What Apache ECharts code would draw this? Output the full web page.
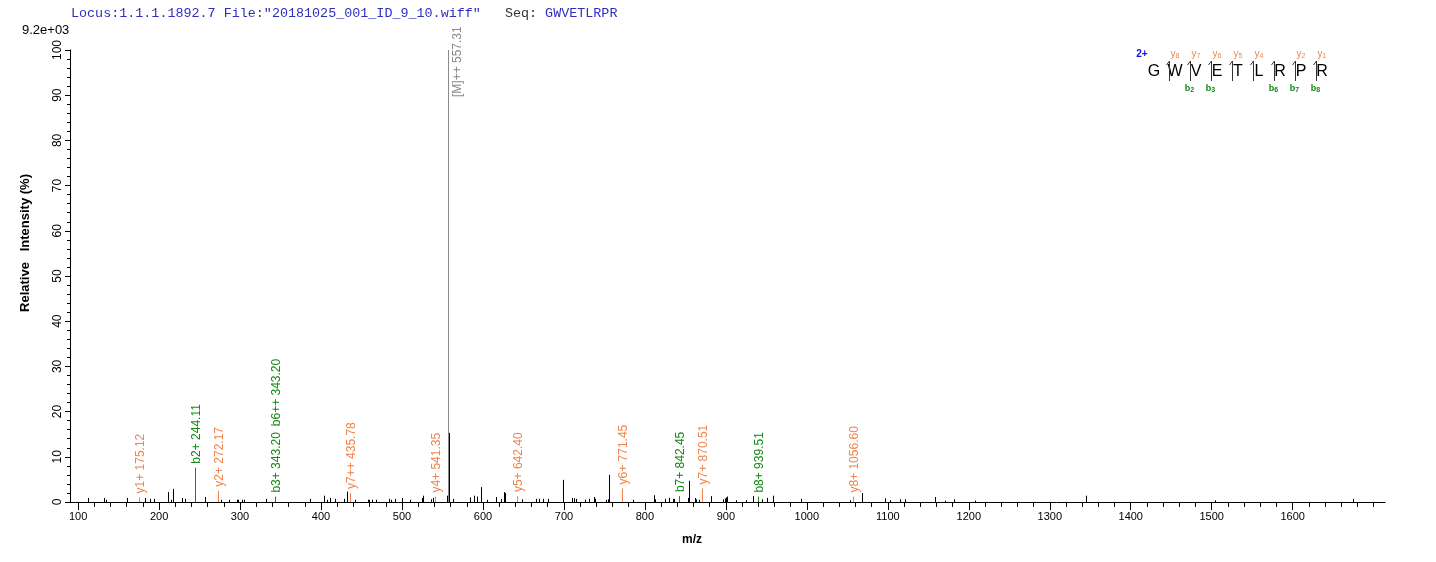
<!DOCTYPE html>
<html>
<head>
<meta charset="utf-8">
<script src="https://cdn.jsdelivr.net/npm/echarts@6/dist/echarts.min.js"></script>
<style>
html, body { margin: 0; padding: 0; background: #fff; }
#chart { width: 1436px; height: 562px; }
</style>
</head>
<body>
<div id="chart"></div>
<script>
// unannotated peaks (m/z, relative intensity %)
var peakMz = [112.6, 132.3, 134.3, 160.7, 182.5, 188.7, 194.0, 210.9, 214.6, 217.0, 228.6, 231.5, 256.5, 275.9, 286.2,
    296.5, 297.8, 302.7, 304.7, 332.3, 387.0, 403.5, 407.6, 411.7, 416.7, 429.0, 431.5, 441.4, 457.8, 459.0, 463.2,
    468.1, 483.7, 487.0, 491.1, 500.2, 510.5, 524.9, 525.7, 536.4, 538.5, 555.8, 558.6, 562.7, 583.7, 588.7, 592.8,
    597.8, 605.2, 616.3, 622.5, 625.7, 627.0, 648.4, 665.7, 668.9, 674.3, 680.0, 698.5, 710.1, 712.1, 714.6, 725.7,
    731.1, 736.8, 738.0, 752.1, 754.1, 755.8, 785.0, 810.9, 812.1, 824.4, 829.4, 834.3, 835.6, 852.8, 854.1, 861.5,
    863.2, 867.3, 882.1, 896.5, 898.5, 900.2, 901.4, 912.6, 924.9, 933.1, 944.7, 950.9, 957.8, 992.8, 1052.8, 1068.1,
    1096.7, 1102.2, 1115.0, 1121.4, 1158.4, 1170.4, 1181.9, 1207.8, 1345.0, 1504.6, 1675.0];
var peakInt = [0.9, 0.9, 0.5, 0.9, 0.9, 0.7, 0.7, 2.2, 0.5, 2.9, 0.9, 0.7, 1.1, 0.5, 0.5,
    0.5, 0.5, 0.5, 0.5, 0.7, 0.7, 1.4, 0.5, 0.9, 0.7, 0.7, 2.3, 0.5, 0.5, 0.5, 0.5,
    0.5, 0.7, 0.5, 0.7, 0.9, 0.5, 0.9, 1.4, 0.6, 0.9, 1.4, 15.3, 0.7, 1.0, 1.4, 1.2,
    3.3, 0.5, 1.1, 0.7, 2.2, 2.0, 0.6, 0.7, 0.7, 0.7, 0.7, 4.9, 0.9, 0.8, 0.7, 0.5,
    0.7, 1.1, 0.7, 0.5, 0.6, 6.0, 0.5, 1.5, 0.6, 0.7, 0.9, 0.7, 0.7, 0.9, 4.7, 0.9,
    0.6, 0.5, 1.3, 0.6, 0.8, 1.0, 1.2, 0.4, 0.4, 1.3, 0.6, 0.9, 1.4, 0.7, 0.4, 2.0,
    0.8, 0.4, 0.6, 0.6, 1.1, 0.3, 0.6, 0.3, 1.4, 0.4, 0.7];

// annotated fragment peaks
var annMz = [175.12, 244.11, 272.17, 343.20, 435.78, 541.35, 557.31, 642.40, 771.45, 842.45, 870.51, 939.51, 1056.60];
var annInt = [1.0, 7.6, 2.5, 1.2, 2.0, 1.2, 100, 1.3, 3.0, 1.3, 3.0, 1.2, 1.2];
var annText = [['y1+ 175.12'], ['b2+ 244.11'], ['y2+ 272.17'], ['b3+ 343.20', 'b6++ 343.20'], ['y7++ 435.78'],
    ['y4+ 541.35'], ['[M]++ 557.31'], ['y5+ 642.40'], ['y6+ 771.45'], ['b7+ 842.45'], ['y7+ 870.51'],
    ['b8+ 939.51'], ['y8+ 1056.60']];
var annType = ['y', 'b', 'y', 'b', 'y', 'y', 'M', 'y', 'y', 'b', 'y', 'b', 'y'];

var xLabelValues = [100, 200, 300, 400, 500, 600, 700, 800, 900, 1000, 1100, 1200, 1300, 1400, 1500, 1600];
var xTickValues = [100, 120, 140, 160, 180, 200, 220, 240, 260, 280, 300, 320, 340, 360, 380, 400, 420, 440, 460, 480,
    500, 520, 540, 560, 580, 600, 620, 640, 660, 680, 700, 720, 740, 760, 780, 800, 820, 840, 860, 880, 900, 920, 940,
    960, 980, 1000, 1020, 1040, 1060, 1080, 1100, 1120, 1140, 1160, 1180, 1200, 1220, 1240, 1260, 1280, 1300, 1320,
    1340, 1360, 1380, 1400, 1420, 1440, 1460, 1480, 1500, 1520, 1540, 1560, 1580, 1600, 1620, 1640, 1660, 1680, 1700];

var seqLetters = ['G', 'W', 'V', 'E', 'T', 'L', 'R', 'P', 'R'];
var yIonFound = [8, 7, 6, 5, 4, 2, 1];
var bIonFound = [2, 3, 6, 7, 8];

var colors = { y: '#F0844C', b: '#128A12', M: '#8A8A8A' };
var labelFont = '12px "Liberation Sans", Arial, sans-serif';

var measureCtx = document.createElement('canvas').getContext('2d');
measureCtx.font = labelFont;
function textWidth(t) {
    return measureCtx.measureText(t).width;
}

var peakData = peakMz.map(function(m, i) { return [m, peakInt[i]]; });
var annData = annMz.map(function(m, i) { return [m, annInt[i], i]; });

function renderPeak(params, api) {
    var p0 = api.coord([api.value(0), 0]);
    var p1 = api.coord([api.value(0), api.value(1)]);
    var x = Math.round(p0[0]) + 0.5;
    return {
        type: 'line',
        shape: { x1: x, y1: p0[1], x2: x, y2: p1[1] },
        style: { stroke: '#000', lineWidth: 1 }
    };
}

function renderAnnotated(params, api) {
    var idx = api.value(2);
    var p0 = api.coord([api.value(0), 0]);
    var p1 = api.coord([api.value(0), api.value(1)]);
    var x = Math.round(p0[0]) + 0.5;
    var c = colors[annType[idx]];
    var gridTop = params.coordSys.y;
    var children = [{
        type: 'line',
        shape: { x1: x, y1: p0[1], x2: x, y2: p1[1] },
        style: { stroke: c, lineWidth: 1 }
    }];
    var yStart = p1[1] - 4;
    annText[idx].forEach(function(t) {
        var w = textWidth(t);
        if (yStart - w < gridTop) {
            // no room above the peak: put the text beside the line, near the top
            children.push({
                type: 'text', x: x + 9, y: gridTop + 47, rotation: Math.PI / 2,
                style: { text: t, fill: c, font: labelFont, align: 'left', verticalAlign: 'middle' }
            });
        } else {
            children.push({
                type: 'text', x: x + 1, y: yStart, rotation: Math.PI / 2,
                style: { text: t, fill: c, font: labelFont, align: 'left', verticalAlign: 'middle' }
            });
            yStart -= w + 6;
        }
    });
    return { type: 'group', children: children };
}

// peptide sequence coverage sketch at the top right
var seqGraphic = [];
var letterX0 = 1154, letterStep = 21;
seqLetters.forEach(function(l, i) {
    seqGraphic.push({
        type: 'text', x: letterX0 + i * letterStep, y: 72,
        style: { text: l, fill: '#000', font: '16px "Liberation Sans", Arial, sans-serif', align: 'center', verticalAlign: 'middle' }
    });
    if (i > 0) {
        var sx = Math.round(letterX0 + i * letterStep - 6.5) + 0.5;
        seqGraphic.push({
            type: 'polyline',
            shape: { points: [[sx - 3, 65], [sx, 61], [sx, 81]] },
            style: { stroke: '#333', lineWidth: 1, fill: null }
        });
        var yNum = seqLetters.length - i;
        if (yIonFound.indexOf(yNum) >= 0) {
            seqGraphic.push({
                type: 'text', x: letterX0 + i * letterStep, y: 54,
                style: {
                    text: '{a|y}{s|' + yNum + '}', align: 'center', verticalAlign: 'middle',
                    rich: {
                        a: { fill: colors.y, font: '10px "Liberation Sans", Arial, sans-serif' },
                        s: { fill: colors.y, font: '7px "Liberation Sans", Arial, sans-serif', padding: [4, 0, 0, 0] }
                    }
                }
            });
        }
        if (bIonFound.indexOf(i) >= 0) {
            seqGraphic.push({
                type: 'text', x: sx - 1, y: 89,
                style: {
                    text: '{a|b}{s|' + i + '}', align: 'center', verticalAlign: 'middle',
                    rich: {
                        a: { fill: colors.b, font: 'bold 9px "Liberation Sans", Arial, sans-serif' },
                        s: { fill: colors.b, font: 'bold 7px "Liberation Sans", Arial, sans-serif', padding: [3, 0, 0, 0] }
                    }
                }
            });
        }
    }
});
seqGraphic.push({
    type: 'text', x: 1142, y: 54,
    style: { text: '2+', fill: '#1010E0', font: 'bold 10px "Liberation Sans", Arial, sans-serif', align: 'center', verticalAlign: 'middle' }
});

var chart = echarts.init(document.getElementById('chart'));
var option = {
    animation: false,
    backgroundColor: '#fff',
    grid: { left: 70, right: 51, top: 50, bottom: 60 },
    xAxis: [{
        type: 'value',
        min: 90,
        max: 1714,
        axisLine: { show: true, lineStyle: { color: '#000', width: 1 } },
        axisTick: { show: true, customValues: xLabelValues, length: 8, lineStyle: { color: '#000' } },
        axisLabel: {
            customValues: xLabelValues, color: '#000', fontSize: 11, margin: 9,
            fontFamily: '"Liberation Sans", Arial, sans-serif',
            formatter: function(v) { return String(v); }
        },
        splitLine: { show: false }
    }, {
        type: 'value',
        position: 'bottom',
        min: 90,
        max: 1714,
        axisLine: { show: false },
        axisTick: { show: true, customValues: xTickValues, length: 5, lineStyle: { color: '#000' } },
        axisLabel: { show: false },
        splitLine: { show: false }
    }],
    yAxis: {
        type: 'value',
        min: 0,
        max: 100,
        interval: 10,
        axisLine: { show: true, lineStyle: { color: '#000', width: 1 } },
        axisTick: { show: true, length: 5, lineStyle: { color: '#000' } },
        minorTick: { show: true, splitNumber: 5, length: 3, lineStyle: { color: '#000' } },
        axisLabel: { rotate: 90, color: '#000', fontSize: 12, margin: 6, fontFamily: '"Liberation Sans", Arial, sans-serif' },
        splitLine: { show: false },
        minorSplitLine: { show: false }
    },
    graphic: [{
        type: 'text', left: 71, top: 7,
        style: {
            text: '{a|Locus:1.1.1.1892.7 File:"20181025_001_ID_9_10.wiff"}{b|   Seq: }{a|GWVETLRPR}',
            rich: {
                a: { fill: '#2E2EC0', font: '13.4px "Liberation Mono", "Courier New", monospace' },
                b: { fill: '#333', font: '13.4px "Liberation Mono", "Courier New", monospace' }
            }
        }
    }, {
        type: 'text', left: 22, top: 24,
        style: { text: '9.2e+03', fill: '#000', font: '13px "Liberation Sans", Arial, sans-serif' }
    }, {
        type: 'text', x: 25, y: 243, rotation: Math.PI / 2,
        style: { text: 'Relative   Intensity (%)', fill: '#000', font: 'bold 13px "Liberation Sans", Arial, sans-serif', align: 'center', verticalAlign: 'middle' }
    }, {
        type: 'text', x: 692, y: 540,
        style: { text: 'm/z', fill: '#000', font: 'bold 12px "Liberation Sans", Arial, sans-serif', align: 'center', verticalAlign: 'middle' }
    }].concat(seqGraphic),
    series: [{
        type: 'custom',
        renderItem: renderPeak,
        encode: { x: 0, y: 1 },
        data: peakData,
        clip: false
    }, {
        type: 'custom',
        renderItem: renderAnnotated,
        encode: { x: 0, y: 1 },
        data: annData,
        clip: false,
        z: 3
    }]
};
chart.setOption(option);
</script>
</body>
</html>
